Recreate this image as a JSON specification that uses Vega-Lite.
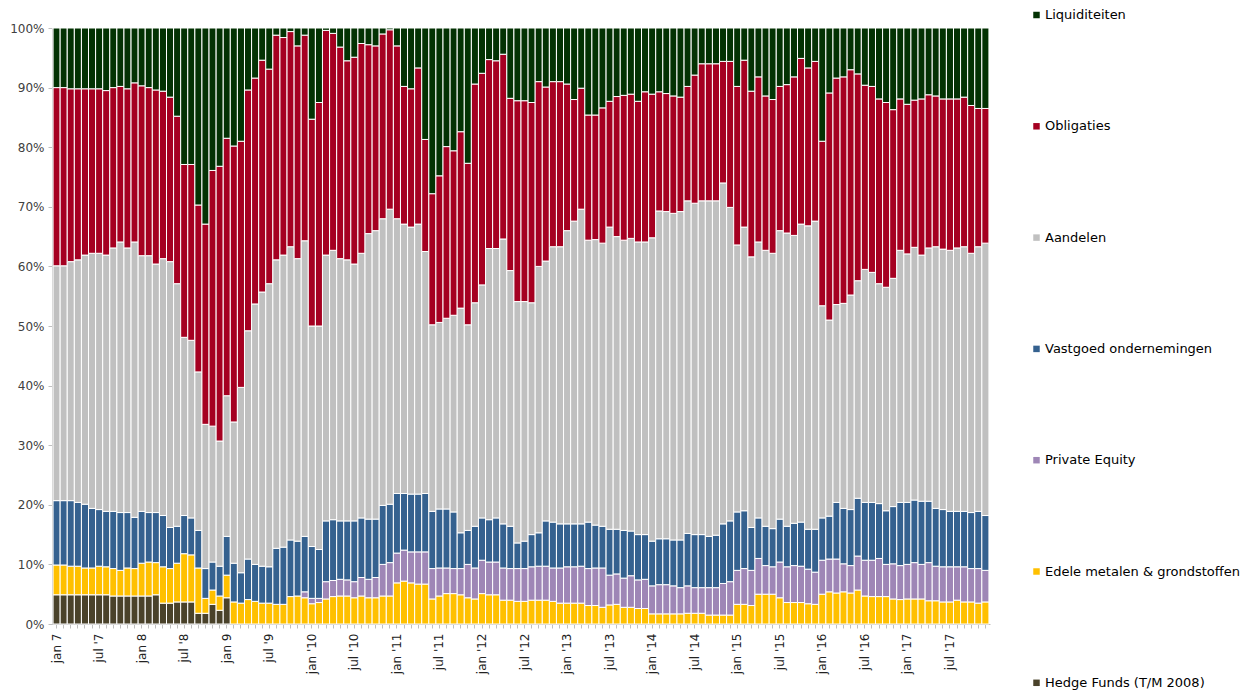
{
"$schema": "https://vega.github.io/schema/vega-lite/v6.json",
"width": 938, "height": 596,
"autosize": {"type": "none"},
"padding": {"left": 52, "top": 28, "right": 258, "bottom": 68},
"background": "white",
"datasets": {"cats": [
{"k": "HF", "name": "Hedge Funds (T/M 2008)", "rank": 1},
{"k": "EM", "name": "Edele metalen & grondstoffen", "rank": 2},
{"k": "PE", "name": "Private Equity", "rank": 3},
{"k": "VG", "name": "Vastgoed ondernemingen", "rank": 4},
{"k": "AA", "name": "Aandelen", "rank": 5},
{"k": "OB", "name": "Obligaties", "rank": 6},
{"k": "LQ", "name": "Liquiditeiten", "rank": 7}
]},
"data": {"values": [
{"m":"2007-01","HF":4.9,"EM":5.0,"PE":0,"VG":10.8,"AA":39.4,"OB":29.9,"LQ":10.0},
{"m":"2007-02","HF":4.9,"EM":5.0,"PE":0,"VG":10.8,"AA":39.4,"OB":29.9,"LQ":10.0},
{"m":"2007-03","HF":4.9,"EM":4.8,"PE":0,"VG":11.0,"AA":40.1,"OB":29.0,"LQ":10.2},
{"m":"2007-04","HF":4.9,"EM":4.8,"PE":0,"VG":10.7,"AA":40.7,"OB":28.7,"LQ":10.2},
{"m":"2007-05","HF":4.9,"EM":4.5,"PE":0,"VG":10.7,"AA":41.8,"OB":27.9,"LQ":10.2},
{"m":"2007-06","HF":4.9,"EM":4.5,"PE":0,"VG":10.0,"AA":42.8,"OB":27.6,"LQ":10.2},
{"m":"2007-07","HF":4.9,"EM":4.8,"PE":0,"VG":9.5,"AA":43.0,"OB":27.6,"LQ":10.2},
{"m":"2007-08","HF":4.9,"EM":4.7,"PE":0,"VG":9.3,"AA":43.0,"OB":27.6,"LQ":10.5},
{"m":"2007-09","HF":4.7,"EM":4.6,"PE":0,"VG":9.6,"AA":44.2,"OB":26.9,"LQ":10.0},
{"m":"2007-10","HF":4.7,"EM":4.3,"PE":0,"VG":9.7,"AA":45.4,"OB":26.1,"LQ":9.8},
{"m":"2007-11","HF":4.7,"EM":4.7,"PE":0,"VG":9.3,"AA":44.4,"OB":26.7,"LQ":10.2},
{"m":"2007-12","HF":4.7,"EM":4.6,"PE":0,"VG":8.6,"AA":46.2,"OB":26.7,"LQ":9.2},
{"m":"2008-01","HF":4.7,"EM":5.5,"PE":0,"VG":8.7,"AA":42.9,"OB":28.5,"LQ":9.7},
{"m":"2008-02","HF":4.7,"EM":5.7,"PE":0,"VG":8.3,"AA":43.1,"OB":28.2,"LQ":10.0},
{"m":"2008-03","HF":4.9,"EM":5.4,"PE":0,"VG":8.4,"AA":41.7,"OB":29.2,"LQ":10.4},
{"m":"2008-04","HF":3.5,"EM":6.1,"PE":0,"VG":8.6,"AA":43.1,"OB":28.1,"LQ":10.6},
{"m":"2008-05","HF":3.5,"EM":5.8,"PE":0,"VG":6.9,"AA":44.6,"OB":27.6,"LQ":11.6},
{"m":"2008-06","HF":3.7,"EM":6.5,"PE":0,"VG":6.2,"AA":40.7,"OB":28.1,"LQ":14.8},
{"m":"2008-07","HF":3.7,"EM":8.1,"PE":0,"VG":6.4,"AA":29.9,"OB":29.0,"LQ":22.9},
{"m":"2008-08","HF":3.7,"EM":7.9,"PE":0,"VG":6.2,"AA":29.8,"OB":29.5,"LQ":22.9},
{"m":"2008-09","HF":1.8,"EM":7.6,"PE":0,"VG":6.3,"AA":26.6,"OB":28.0,"LQ":29.7},
{"m":"2008-10","HF":1.8,"EM":2.5,"PE":0,"VG":5.0,"AA":24.2,"OB":33.6,"LQ":32.9},
{"m":"2008-11","HF":3.3,"EM":2.4,"PE":0,"VG":4.7,"AA":22.8,"OB":42.9,"LQ":23.9},
{"m":"2008-12","HF":2.3,"EM":2.4,"PE":0,"VG":5.0,"AA":21.0,"OB":46.1,"LQ":23.2},
{"m":"2009-01","HF":4.4,"EM":3.8,"PE":0,"VG":6.5,"AA":23.6,"OB":43.2,"LQ":18.5},
{"m":"2009-02","HF":0,"EM":3.7,"PE":0,"VG":6.5,"AA":23.7,"OB":46.3,"LQ":19.8},
{"m":"2009-03","HF":0,"EM":3.5,"PE":0,"VG":5.1,"AA":31.1,"OB":41.3,"LQ":19.0},
{"m":"2009-04","HF":0,"EM":4.1,"PE":0,"VG":6.8,"AA":38.3,"OB":40.4,"LQ":10.4},
{"m":"2009-05","HF":0,"EM":3.8,"PE":0,"VG":6.2,"AA":43.7,"OB":37.9,"LQ":8.4},
{"m":"2009-06","HF":0,"EM":3.5,"PE":0,"VG":6.2,"AA":46.0,"OB":38.9,"LQ":5.4},
{"m":"2009-07","HF":0,"EM":3.5,"PE":0,"VG":6.1,"AA":47.5,"OB":36.0,"LQ":6.9},
{"m":"2009-08","HF":0,"EM":3.3,"PE":0,"VG":9.4,"AA":48.4,"OB":37.7,"LQ":1.2},
{"m":"2009-09","HF":0,"EM":3.3,"PE":0,"VG":9.6,"AA":49.0,"OB":36.5,"LQ":1.6},
{"m":"2009-10","HF":0,"EM":4.6,"PE":0,"VG":9.5,"AA":49.2,"OB":36.1,"LQ":0.6},
{"m":"2009-11","HF":0,"EM":4.7,"PE":0,"VG":9.2,"AA":47.4,"OB":35.7,"LQ":3.0},
{"m":"2009-12","HF":0,"EM":4.4,"PE":1.0,"VG":9.3,"AA":49.6,"OB":34.5,"LQ":1.2},
{"m":"2010-01","HF":0,"EM":3.4,"PE":0.9,"VG":8.7,"AA":37.0,"OB":34.7,"LQ":15.3},
{"m":"2010-02","HF":0,"EM":3.6,"PE":0.7,"VG":8.2,"AA":37.5,"OB":37.5,"LQ":12.5},
{"m":"2010-03","HF":0,"EM":4.2,"PE":2.9,"VG":10.2,"AA":44.6,"OB":37.7,"LQ":0.4},
{"m":"2010-04","HF":0,"EM":4.6,"PE":2.7,"VG":10.2,"AA":45.2,"OB":36.4,"LQ":0.9},
{"m":"2010-05","HF":0,"EM":4.7,"PE":2.8,"VG":9.8,"AA":44.0,"OB":35.5,"LQ":3.2},
{"m":"2010-06","HF":0,"EM":4.7,"PE":2.7,"VG":9.9,"AA":43.8,"OB":33.4,"LQ":5.5},
{"m":"2010-07","HF":0,"EM":4.4,"PE":2.7,"VG":10.2,"AA":43.1,"OB":34.7,"LQ":4.9},
{"m":"2010-08","HF":0,"EM":4.7,"PE":3.1,"VG":10.0,"AA":44.4,"OB":35.2,"LQ":2.6},
{"m":"2010-09","HF":0,"EM":4.4,"PE":3.1,"VG":10.1,"AA":47.9,"OB":31.7,"LQ":2.8},
{"m":"2010-10","HF":0,"EM":4.4,"PE":3.4,"VG":9.8,"AA":48.4,"OB":31.0,"LQ":3.0},
{"m":"2010-11","HF":0,"EM":4.7,"PE":5.3,"VG":9.9,"AA":48.1,"OB":31.0,"LQ":1.0},
{"m":"2010-12","HF":0,"EM":4.7,"PE":5.6,"VG":9.8,"AA":49.5,"OB":30.1,"LQ":0.3},
{"m":"2011-01","HF":0,"EM":6.9,"PE":5.0,"VG":10.0,"AA":46.1,"OB":29.0,"LQ":3.0},
{"m":"2011-02","HF":0,"EM":7.2,"PE":5.2,"VG":9.5,"AA":45.2,"OB":23.1,"LQ":9.8},
{"m":"2011-03","HF":0,"EM":6.9,"PE":5.2,"VG":9.7,"AA":44.8,"OB":23.2,"LQ":10.2},
{"m":"2011-04","HF":0,"EM":6.7,"PE":5.4,"VG":9.7,"AA":45.3,"OB":26.2,"LQ":6.7},
{"m":"2011-05","HF":0,"EM":6.7,"PE":5.4,"VG":9.8,"AA":40.6,"OB":18.8,"LQ":18.7},
{"m":"2011-06","HF":0,"EM":4.2,"PE":5.1,"VG":9.6,"AA":31.3,"OB":22.0,"LQ":27.8},
{"m":"2011-07","HF":0,"EM":4.7,"PE":4.7,"VG":9.9,"AA":31.3,"OB":24.6,"LQ":24.8},
{"m":"2011-08","HF":0,"EM":5.1,"PE":4.3,"VG":9.9,"AA":32.0,"OB":28.8,"LQ":19.9},
{"m":"2011-09","HF":0,"EM":5.1,"PE":4.2,"VG":9.5,"AA":33.0,"OB":27.6,"LQ":20.6},
{"m":"2011-10","HF":0,"EM":4.9,"PE":4.4,"VG":6.0,"AA":37.7,"OB":29.6,"LQ":17.4},
{"m":"2011-11","HF":0,"EM":4.4,"PE":5.6,"VG":5.7,"AA":34.5,"OB":27.1,"LQ":22.7},
{"m":"2011-12","HF":0,"EM":4.2,"PE":5.2,"VG":7.0,"AA":37.5,"OB":36.7,"LQ":9.4},
{"m":"2012-01","HF":0,"EM":5.1,"PE":5.6,"VG":7.1,"AA":39.1,"OB":35.5,"LQ":7.6},
{"m":"2012-02","HF":0,"EM":4.9,"PE":5.5,"VG":7.1,"AA":45.5,"OB":31.7,"LQ":5.3},
{"m":"2012-03","HF":0,"EM":4.9,"PE":5.5,"VG":7.4,"AA":45.2,"OB":31.5,"LQ":5.5},
{"m":"2012-04","HF":0,"EM":4.0,"PE":5.4,"VG":7.4,"AA":47.8,"OB":31.0,"LQ":4.4},
{"m":"2012-05","HF":0,"EM":4.0,"PE":5.3,"VG":7.1,"AA":42.9,"OB":28.9,"LQ":11.8},
{"m":"2012-06","HF":0,"EM":3.8,"PE":5.5,"VG":4.3,"AA":40.5,"OB":33.7,"LQ":12.2},
{"m":"2012-07","HF":0,"EM":3.8,"PE":5.5,"VG":4.6,"AA":40.2,"OB":33.7,"LQ":12.2},
{"m":"2012-08","HF":0,"EM":4.0,"PE":5.6,"VG":5.4,"AA":38.9,"OB":33.6,"LQ":12.5},
{"m":"2012-09","HF":0,"EM":4.0,"PE":5.7,"VG":5.6,"AA":44.7,"OB":31.0,"LQ":9.0},
{"m":"2012-10","HF":0,"EM":4.0,"PE":5.7,"VG":7.6,"AA":43.6,"OB":29.2,"LQ":9.9},
{"m":"2012-11","HF":0,"EM":3.8,"PE":5.6,"VG":7.7,"AA":46.2,"OB":27.7,"LQ":9.0},
{"m":"2012-12","HF":0,"EM":3.5,"PE":5.9,"VG":7.4,"AA":46.5,"OB":27.7,"LQ":9.0},
{"m":"2013-01","HF":0,"EM":3.5,"PE":6.1,"VG":7.2,"AA":49.2,"OB":24.6,"LQ":9.4},
{"m":"2013-02","HF":0,"EM":3.5,"PE":6.1,"VG":7.2,"AA":50.8,"OB":20.4,"LQ":12.0},
{"m":"2013-03","HF":0,"EM":3.5,"PE":6.2,"VG":7.1,"AA":52.8,"OB":20.3,"LQ":10.1},
{"m":"2013-04","HF":0,"EM":3.1,"PE":6.2,"VG":7.8,"AA":47.3,"OB":21.0,"LQ":14.6},
{"m":"2013-05","HF":0,"EM":3.1,"PE":6.3,"VG":7.2,"AA":47.9,"OB":20.9,"LQ":14.6},
{"m":"2013-06","HF":0,"EM":2.8,"PE":6.6,"VG":7.0,"AA":47.5,"OB":22.7,"LQ":13.4},
{"m":"2013-07","HF":0,"EM":3.2,"PE":5.0,"VG":7.7,"AA":50.7,"OB":21.1,"LQ":12.3},
{"m":"2013-08","HF":0,"EM":3.3,"PE":5.1,"VG":7.5,"AA":49.1,"OB":23.5,"LQ":11.5},
{"m":"2013-09","HF":0,"EM":2.8,"PE":4.9,"VG":8.0,"AA":48.7,"OB":24.3,"LQ":11.3},
{"m":"2013-10","HF":0,"EM":2.8,"PE":5.3,"VG":7.5,"AA":49.1,"OB":24.2,"LQ":11.1},
{"m":"2013-11","HF":0,"EM":2.6,"PE":4.8,"VG":7.6,"AA":49.1,"OB":23.6,"LQ":12.3},
{"m":"2013-12","HF":0,"EM":2.6,"PE":4.9,"VG":7.5,"AA":49.1,"OB":25.2,"LQ":10.7},
{"m":"2014-01","HF":0,"EM":1.7,"PE":4.7,"VG":7.5,"AA":50.9,"OB":24.1,"LQ":11.1},
{"m":"2014-02","HF":0,"EM":1.7,"PE":4.9,"VG":7.7,"AA":55.0,"OB":20.0,"LQ":10.7},
{"m":"2014-03","HF":0,"EM":1.7,"PE":4.9,"VG":7.7,"AA":54.9,"OB":19.8,"LQ":11.0},
{"m":"2014-04","HF":0,"EM":1.7,"PE":4.7,"VG":7.7,"AA":54.8,"OB":19.7,"LQ":11.4},
{"m":"2014-05","HF":0,"EM":1.7,"PE":4.4,"VG":8.0,"AA":55.1,"OB":19.2,"LQ":11.6},
{"m":"2014-06","HF":0,"EM":1.8,"PE":4.6,"VG":8.8,"AA":55.8,"OB":19.2,"LQ":9.8},
{"m":"2014-07","HF":0,"EM":1.8,"PE":4.3,"VG":8.9,"AA":55.6,"OB":21.5,"LQ":7.9},
{"m":"2014-08","HF":0,"EM":1.8,"PE":4.3,"VG":8.9,"AA":56.0,"OB":23.0,"LQ":6.0},
{"m":"2014-09","HF":0,"EM":1.5,"PE":4.6,"VG":8.6,"AA":56.3,"OB":23.0,"LQ":6.0},
{"m":"2014-10","HF":0,"EM":1.5,"PE":4.6,"VG":8.8,"AA":56.1,"OB":23.0,"LQ":6.0},
{"m":"2014-11","HF":0,"EM":1.5,"PE":5.3,"VG":10.0,"AA":57.2,"OB":20.4,"LQ":5.6},
{"m":"2014-12","HF":0,"EM":1.5,"PE":5.6,"VG":10.2,"AA":52.6,"OB":24.5,"LQ":5.6},
{"m":"2015-01","HF":0,"EM":3.3,"PE":5.7,"VG":9.8,"AA":44.8,"OB":26.6,"LQ":9.8},
{"m":"2015-02","HF":0,"EM":3.3,"PE":6.0,"VG":9.7,"AA":47.6,"OB":28.0,"LQ":5.4},
{"m":"2015-03","HF":0,"EM":3.1,"PE":5.9,"VG":7.2,"AA":45.4,"OB":27.8,"LQ":10.6},
{"m":"2015-04","HF":0,"EM":5.0,"PE":6.0,"VG":6.8,"AA":46.3,"OB":27.7,"LQ":8.2},
{"m":"2015-05","HF":0,"EM":5.0,"PE":4.8,"VG":6.6,"AA":46.3,"OB":25.9,"LQ":11.4},
{"m":"2015-06","HF":0,"EM":5.0,"PE":4.6,"VG":6.4,"AA":46.2,"OB":25.8,"LQ":12.0},
{"m":"2015-07","HF":0,"EM":4.4,"PE":6.0,"VG":7.2,"AA":48.4,"OB":24.2,"LQ":9.8},
{"m":"2015-08","HF":0,"EM":3.6,"PE":6.0,"VG":6.8,"AA":49.2,"OB":24.9,"LQ":9.5},
{"m":"2015-09","HF":0,"EM":3.6,"PE":6.2,"VG":7.1,"AA":48.3,"OB":26.6,"LQ":8.2},
{"m":"2015-10","HF":0,"EM":3.6,"PE":6.1,"VG":7.4,"AA":50.0,"OB":27.8,"LQ":5.1},
{"m":"2015-11","HF":0,"EM":3.4,"PE":5.8,"VG":6.7,"AA":50.9,"OB":26.5,"LQ":6.7},
{"m":"2015-12","HF":0,"EM":3.3,"PE":5.4,"VG":7.2,"AA":51.7,"OB":26.8,"LQ":5.6},
{"m":"2016-01","HF":0,"EM":5.0,"PE":5.7,"VG":7.1,"AA":35.6,"OB":27.6,"LQ":19.0},
{"m":"2016-02","HF":0,"EM":5.4,"PE":5.5,"VG":7.2,"AA":32.9,"OB":38.1,"LQ":10.9},
{"m":"2016-03","HF":0,"EM":5.2,"PE":5.7,"VG":9.5,"AA":33.2,"OB":38.0,"LQ":8.4},
{"m":"2016-04","HF":0,"EM":5.4,"PE":4.7,"VG":9.3,"AA":34.4,"OB":38.0,"LQ":8.2},
{"m":"2016-05","HF":0,"EM":5.2,"PE":4.6,"VG":9.4,"AA":36.0,"OB":37.8,"LQ":7.0},
{"m":"2016-06","HF":0,"EM":5.7,"PE":5.7,"VG":9.7,"AA":36.5,"OB":34.7,"LQ":7.7},
{"m":"2016-07","HF":0,"EM":4.7,"PE":6.0,"VG":9.7,"AA":39.1,"OB":30.9,"LQ":9.6},
{"m":"2016-08","HF":0,"EM":4.6,"PE":6.1,"VG":9.7,"AA":38.6,"OB":31.2,"LQ":9.8},
{"m":"2016-09","HF":0,"EM":4.6,"PE":6.4,"VG":9.2,"AA":36.9,"OB":31.0,"LQ":11.9},
{"m":"2016-10","HF":0,"EM":4.6,"PE":5.4,"VG":9.0,"AA":37.5,"OB":31.0,"LQ":12.5},
{"m":"2016-11","HF":0,"EM":4.2,"PE":5.9,"VG":9.6,"AA":38.3,"OB":28.3,"LQ":13.7},
{"m":"2016-12","HF":0,"EM":4.1,"PE":5.7,"VG":10.6,"AA":42.3,"OB":25.4,"LQ":11.9},
{"m":"2017-01","HF":0,"EM":4.2,"PE":5.8,"VG":10.4,"AA":41.7,"OB":25.1,"LQ":12.8},
{"m":"2017-02","HF":0,"EM":4.2,"PE":6.1,"VG":10.5,"AA":42.4,"OB":24.7,"LQ":12.1},
{"m":"2017-03","HF":0,"EM":4.2,"PE":5.8,"VG":10.6,"AA":41.3,"OB":26.2,"LQ":11.9},
{"m":"2017-04","HF":0,"EM":3.9,"PE":6.4,"VG":10.3,"AA":42.5,"OB":25.7,"LQ":11.2},
{"m":"2017-05","HF":0,"EM":3.9,"PE":5.8,"VG":9.7,"AA":43.9,"OB":25.3,"LQ":11.4},
{"m":"2017-06","HF":0,"EM":3.7,"PE":5.9,"VG":9.6,"AA":43.7,"OB":25.2,"LQ":11.9},
{"m":"2017-07","HF":0,"EM":3.7,"PE":5.9,"VG":9.3,"AA":43.8,"OB":25.4,"LQ":11.9},
{"m":"2017-08","HF":0,"EM":4.0,"PE":5.6,"VG":9.3,"AA":44.2,"OB":25.0,"LQ":11.9},
{"m":"2017-09","HF":0,"EM":3.7,"PE":5.9,"VG":9.3,"AA":44.4,"OB":25.1,"LQ":11.6},
{"m":"2017-10","HF":0,"EM":3.7,"PE":5.6,"VG":9.4,"AA":43.5,"OB":24.8,"LQ":13.0},
{"m":"2017-11","HF":0,"EM":3.5,"PE":5.8,"VG":9.6,"AA":44.4,"OB":23.2,"LQ":13.5},
{"m":"2017-12","HF":0,"EM":3.7,"PE":5.3,"VG":9.2,"AA":45.7,"OB":22.6,"LQ":13.5}
]},
"transform": [
{"fold": ["HF","EM","PE","VG","AA","OB","LQ"], "as": ["k","v"]},
{"filter": "datum.v > 0"},
{"lookup": "k", "from": {"data": {"name": "cats"}, "key": "k", "fields": ["name","rank"]}}
],
"mark": {"type": "bar", "stroke": "white", "strokeWidth": 1},
"encoding": {
"x": {"field": "m", "type": "ordinal", "sort": "ascending",
 "scale": {"paddingInner": 0, "paddingOuter": 0.15},
 "axis": {"title": null, "labelAngle": -90, "labelOverlap": false,
  "labelExpr": "substring(datum.value,5,7)=='01' ? 'jan ' + (toNumber(substring(datum.value,2,4)) < 10 ? '' : \"'\") + toNumber(substring(datum.value,2,4)) : (substring(datum.value,5,7)=='07' ? \"jul '\" + toNumber(substring(datum.value,2,4)) : '')",
  "labelFont": "DejaVu Sans", "labelFontSize": 12, "labelColor": "#222222", "labelPadding": 5,
  "tickSize": 4, "tickColor": "#bfbfbf", "domainColor": "#bfbfbf", "grid": false}},
"y": {"field": "v", "type": "quantitative", "stack": "normalize",
 "scale": {"domain": [0, 1]},
 "axis": {"title": null, "format": "%", "values": [0,0.1,0.2,0.3,0.4,0.5,0.6,0.7,0.8,0.9,1],
  "labelFont": "DejaVu Sans", "labelFontSize": 12, "labelColor": "#404040", "labelPadding": 4,
  "tickSize": 4, "tickColor": "#bfbfbf", "domainColor": "#bfbfbf", "grid": false}},
"color": {"field": "name", "type": "nominal",
 "scale": {"domain": ["Liquiditeiten","Obligaties","Aandelen","Vastgoed ondernemingen","Private Equity","Edele metalen & grondstoffen","Hedge Funds (T/M 2008)"],
  "range": ["#033203","#A50021","#C0C0C0","#35618F","#9E86B6","#FFC000","#4A422A"]},
 "legend": {"title": null, "orient": "none", "legendX": 978, "legendY": -19.5,
  "symbolType": "square", "symbolSize": 42, "symbolStrokeWidth": 0,
  "labelFont": "DejaVu Sans", "labelFontSize": 13, "labelColor": "#000000", "labelLimit": 400,
  "labelOffset": 2, "rowPadding": 97.3, "padding": 0}},
"order": {"field": "rank", "type": "quantitative", "sort": "ascending"}
},
"config": {"view": {"stroke": null}}
}
